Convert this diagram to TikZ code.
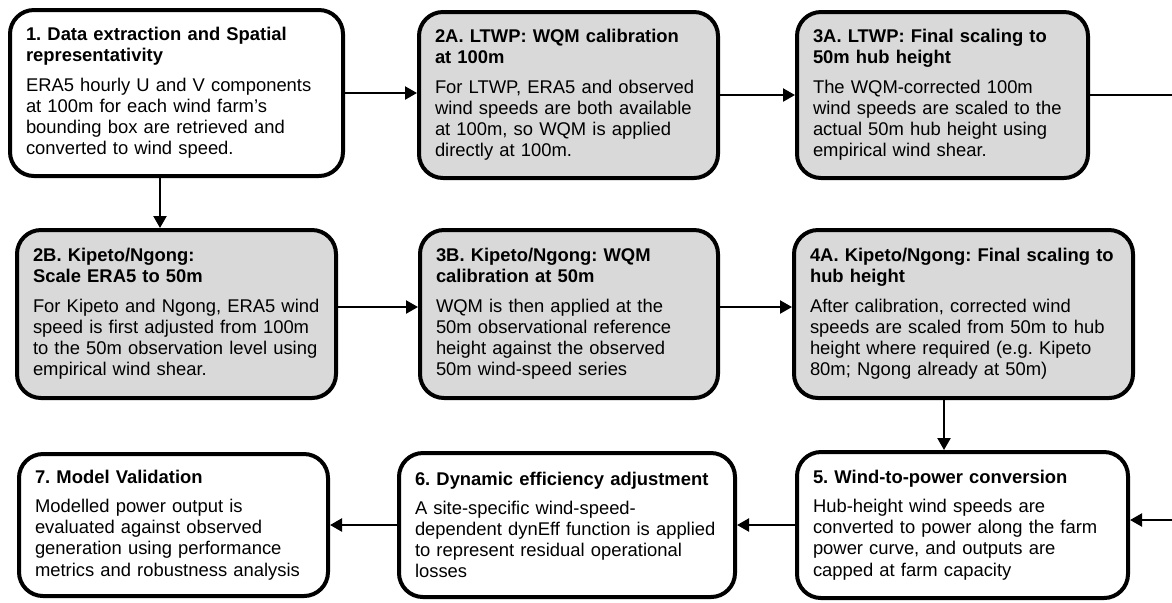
\documentclass[tikz,border=0pt]{standalone}
\usepackage{fontspec}
\setmainfont{Liberation Sans}
\usepackage{tikz}
\usetikzlibrary{arrows.meta}
\frenchspacing
\definecolor{calgray}{HTML}{D9D9D9}
\tikzstyle{stage} = [rectangle, 
rounded corners=12pt, 
line width=2pt, 
draw=black, 
fill=white, 
inner xsep=8pt, 
align=left, 
font=\fontsize{9.2}{10.6}\selectfont]
\tikzstyle{calib} = [stage, fill=calgray]
\tikzstyle{link} = [line width=1.1pt]
\tikzstyle{arrow} = [link,-{Triangle[length=6pt,width=6.5pt]}]
\newcommand{\stagetext}[2]{\textbf{#1}\\[4pt]#2}

\begin{document}
\begin{tikzpicture}[x=0.5pt,y=-0.5pt]
    \useasboundingbox (0,0) rectangle (1172,602);

    \node (extract) [stage, text width=150.5pt, minimum height=83pt] at (176.5,93) {\stagetext{1. Data extraction and Spatial\\representativity}{ERA5 hourly U and V components\\at 100m for each wind farm’s\\bounding box are retrieved and\\converted to wind speed.}};
    \node (ltwpcal) [calib, text width=133.5pt, minimum height=83pt] at (568.5,95) {\stagetext{2A. LTWP: WQM calibration\\at 100m}{For LTWP, ERA5 and observed\\wind speeds are both available\\at 100m, so WQM is applied\\directly at 100m.}};
    \node (ltwphub) [calib, text width=129.5pt, minimum height=83pt] at (942.5,95) {\stagetext{3A. LTWP: Final scaling to\\50m hub height}{The WQM-corrected 100m\\wind speeds are scaled to the\\actual 50m hub height using\\empirical wind shear.}};

    \node (kipscale) [calib, text width=143.5pt, minimum height=84pt] at (176.5,314) {\stagetext{2B. Kipeto/Ngong:\\Scale ERA5 to 50m}{For Kipeto and Ngong, ERA5 wind\\speed is first adjusted from 100m\\to the 50m observation level using\\empirical wind shear.}};
    \node (kipcal) [calib, text width=133pt, minimum height=84pt] at (569,314) {\stagetext{3B. Kipeto/Ngong: WQM\\calibration at 50m}{WQM is then applied at the\\50m observational reference\\height against the observed\\50m wind-speed series}};
    \node (kiphub) [calib, text width=153.5pt, minimum height=84pt] at (963.5,314) {\stagetext{4A. Kipeto/Ngong: Final scaling to\\hub height}{After calibration, corrected wind\\speeds are scaled from 50m to hub\\height where required (e.g. Kipeto\\80m; Ngong already at 50m)}};

    \node (power) [stage, text width=149.5pt, minimum height=73pt] at (962.5,525) {\stagetext{5. Wind-to-power conversion}{Hub-height wind speeds are\\converted to power along the farm\\power curve, and outputs are\\capped at farm capacity}};
    \node (dyneff) [stage, text width=152pt, minimum height=72pt] at (567,525) {\stagetext{6. Dynamic efficiency adjustment}{A site-specific wind-speed-\\dependent dynEff function is applied\\to represent residual operational\\losses}};
    \node (valid) [stage, text width=138.5pt, minimum height=71pt] at (173.5,525) {\stagetext{7. Model Validation}{Modelled power output is\\evaluated against observed\\generation using performance\\metrics and robustness analysis}};

    \coordinate (outA) at (1172,95);
    \coordinate (inB) at (1172,520);

    \draw [arrow] (extract.east) -- (extract.east -| ltwpcal.west);
    \draw [arrow] (ltwpcal) -- (ltwphub);
    \draw [link] (ltwphub) -- (outA);
    \draw [arrow] ([xshift=-8.25pt]extract.south) -- ([xshift=-8.25pt]extract.south |- kipscale.north);
    \draw [arrow] ([yshift=3.5pt]kipscale.east) -- ([yshift=3.5pt]kipscale.east -| kipcal.west);
    \draw [arrow] ([yshift=3.5pt]kipcal.east) -- ([yshift=3.5pt]kipcal.east -| kiphub.west);
    \draw [arrow] ([xshift=-9.75pt]kiphub.south) -- ([xshift=-9.75pt]kiphub.south |- power.north);
    \draw [arrow] (inB) -- (inB -| power.east);
    \draw [arrow] (power) -- (dyneff);
    \draw [arrow] (dyneff) -- (valid);
\end{tikzpicture}
\end{document}
